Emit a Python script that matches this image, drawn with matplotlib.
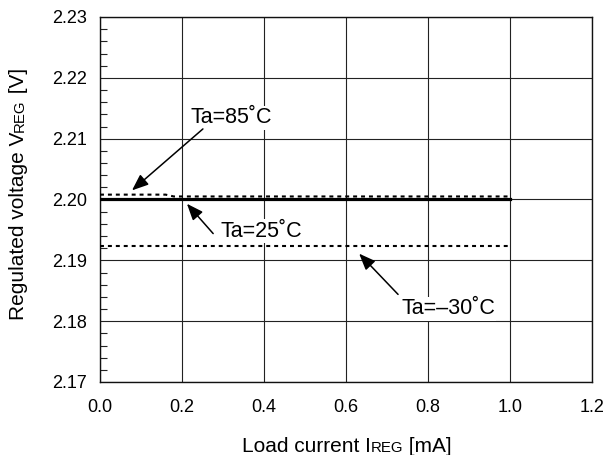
import matplotlib
matplotlib.use("Agg")
import matplotlib.pyplot as plt
import numpy as np

plt.rcParams['font.family'] = ['Liberation Sans', 'DejaVu Sans']

# Data
x_85 = [0.0, 0.16, 0.18, 1.0]
y_85 = [2.2008, 2.2008, 2.2005, 2.2005]
x_25 = [0.0, 1.0]
y_25 = [2.2001, 2.2001]
x_m30 = [0.0, 1.0]
y_m30 = [2.1923, 2.1923]

xticks = [0.0, 0.2, 0.4, 0.6, 0.8, 1.0, 1.2]
yticks = [2.17, 2.18, 2.19, 2.20, 2.21, 2.22, 2.23]

fig = plt.figure(figsize=(6.1, 4.55), dpi=100)
ax = fig.add_axes([100/610, 1-382/455, 492/610, 365/455])

ax.set_xlim(0, 1.2)
ax.set_ylim(2.17, 2.23)
ax.set_xticks(xticks)
ax.set_xticklabels([f"{v:.1f}" for v in xticks])
ax.set_yticks(yticks)
ax.set_yticklabels([f"{v:.2f}" for v in yticks])
ax.set_yticks(np.arange(2.17, 2.2301, 0.002), minor=True)
ax.grid(True, which='major', color='#222222', linewidth=0.8)
ax.tick_params(axis='both', which='major', direction='in', length=0, labelsize=13)
ax.tick_params(axis='x', pad=12.5)
ax.tick_params(axis='y', pad=9.5)
ax.tick_params(axis='y', which='minor', direction='in', length=5, width=0.8, color='#222222')
ax.tick_params(axis='x', which='minor', length=0)
for s in ax.spines.values():
    s.set_linewidth(1.0)
    s.set_color('#111111')

dash = (0, (1.9, 1.9))
ax.plot(x_85, y_85, color='black', linewidth=1.5, linestyle=dash, zorder=3)
ax.plot(x_m30, y_m30, color='black', linewidth=1.5, linestyle=dash, zorder=3)
ax.plot(x_25, y_25, color='black', linewidth=2.3, zorder=4)

bbox = dict(facecolor='white', edgecolor='none', pad=1.0)
arrow = dict(arrowstyle='-|>,head_length=1.0,head_width=0.4', color='black', lw=1.1, shrinkA=0, shrinkB=0)
afs = 15.5

ax.text(0.3195, 2.2134, "Ta=85˚C", ha='center', va='center', fontsize=afs, bbox=bbox, zorder=5)
ax.annotate("", xy=(0.078, 2.2015), xytext=(0.251, 2.2116), arrowprops=arrow, zorder=5)

ax.text(0.394, 2.1948, "Ta=25˚C", ha='center', va='center', fontsize=afs, bbox=bbox, zorder=5)
ax.annotate("", xy=(0.212, 2.1993), xytext=(0.276, 2.1944), arrowprops=arrow, zorder=5)

ax.text(0.849, 2.1820, "Ta=–30˚C", ha='center', va='center', fontsize=afs, bbox=bbox, zorder=5)
ax.annotate("", xy=(0.632, 2.1911), xytext=(0.727, 2.1844), arrowprops=arrow, zorder=5)

# x label in pieces (small caps subscript style)
fs = 15
t1 = fig.text(242/610, 1-452/455, "Load current I", fontsize=fs, ha='left', va='baseline')
t2 = ax.annotate("REG", xy=(1, 0), xycoords=t1, fontsize=fs*0.72, ha='left', va='bottom',
                 xytext=(0, 0.9), textcoords='offset points', annotation_clip=False)
t3 = ax.annotate(" [mA]", xy=(1, 0), xycoords=t2, fontsize=fs, ha='left', va='bottom',
                 xytext=(0, -0.9), textcoords='offset points', annotation_clip=False)

# y label in pieces
y1 = fig.text(28/610, 1-320/455, "Regulated voltage V", fontsize=fs, rotation=90,
              ha='right', va='bottom')
y2 = ax.annotate("REG", xy=(1, 1), xycoords=y1, fontsize=fs*0.72, rotation=90,
                 ha='right', va='bottom', xytext=(-0.9, 0), textcoords='offset points',
                 annotation_clip=False)
y3 = ax.annotate(" [V]", xy=(1, 1), xycoords=y2, fontsize=fs, rotation=90,
                 ha='right', va='bottom', xytext=(0.9, 0), textcoords='offset points',
                 annotation_clip=False)

fig.savefig("out.png", dpi=100)
